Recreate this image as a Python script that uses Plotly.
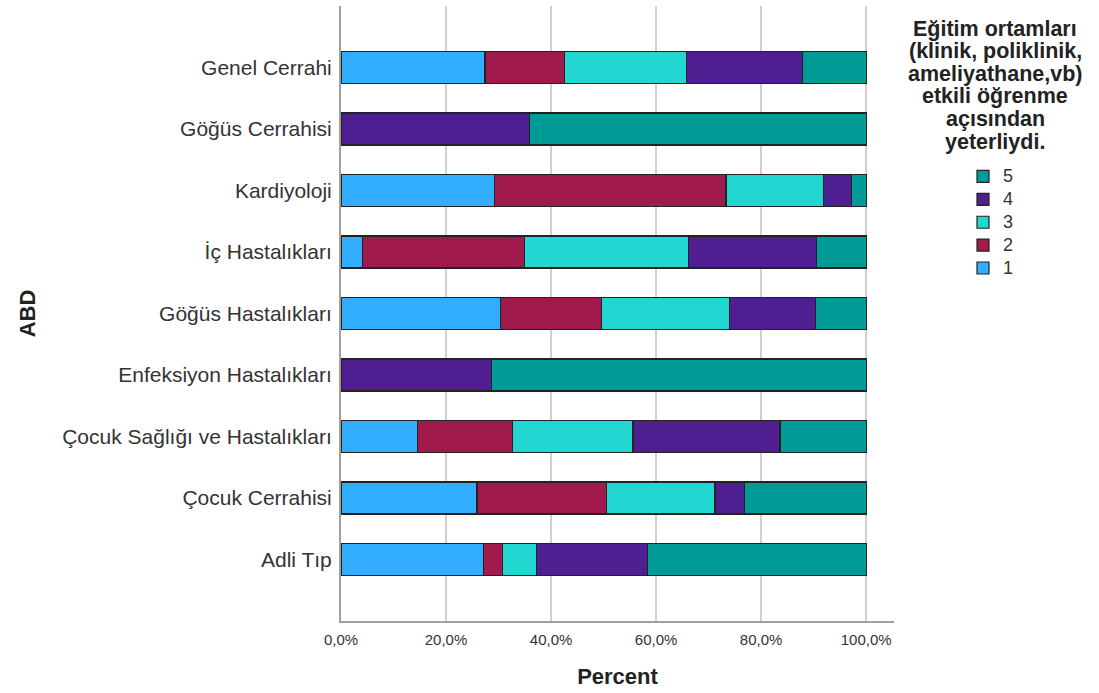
import plotly.graph_objects as go

# Categories (top to bottom)
categories = [
    "Genel Cerrahi",
    "Göğüs Cerrahisi",
    "Kardiyoloji",
    "İç Hastalıkları",
    "Göğüs Hastalıkları",
    "Enfeksiyon Hastalıkları",
    "Çocuk Sağlığı ve Hastalıkları",
    "Çocuk Cerrahisi",
    "Adli Tıp",
]

# Percent per response level, same order as categories
resp_1 = [27.4, 0.0, 29.2, 4.1, 30.3, 0.0, 14.5, 25.9, 27.2]
resp_2 = [15.1, 0.0, 44.1, 30.8, 19.3, 0.0, 18.1, 24.6, 3.5]
resp_3 = [23.3, 0.0, 18.6, 31.2, 24.3, 0.0, 23.0, 20.7, 6.5]
resp_4 = [22.1, 35.9, 5.3, 24.5, 16.5, 28.6, 28.0, 5.7, 21.2]
resp_5 = [12.1, 64.1, 2.8, 9.4, 9.6, 71.4, 16.4, 23.1, 41.6]

series_names = ["1", "2", "3", "4", "5"]
series_values = [resp_1, resp_2, resp_3, resp_4, resp_5]
series_colors = ["#33adff", "#a01a4c", "#22d6d2", "#4f1f91", "#009b96"]

tick_vals = [0, 20, 40, 60, 80, 100]
tick_text = ["0,0%", "20,0%", "40,0%", "60,0%", "80,0%", "100,0%"]

legend_title_lines = [
    "Eğitim ortamları",
    "(klinik, poliklinik,",
    "ameliyathane,vb)",
    "etkili öğrenme",
    "açısından",
    "yeterliydi.",
]

FONT = "Liberation Sans, Arial, sans-serif"
W, H = 1099, 693
L, R, T, B = 341, 205, 6, 72
plot_h = H - T - B
plot_w = W - L - R

fig = go.Figure()
for name, vals, col in zip(series_names, series_values, series_colors):
    fig.add_trace(go.Bar(
        y=categories, x=vals, name="<span style='font-size:18px'>" + name + "</span>",
        orientation="h",
        marker=dict(color=col, line=dict(color="#222222", width=1.2)),
        width=0.52,
    ))

fig.update_layout(
    width=W, height=H,
    barmode="stack",
    plot_bgcolor="white", paper_bgcolor="white",
    margin=dict(l=L, r=R, t=T, b=B, autoexpand=False),
    font=dict(family=FONT, color="#333333"),
    showlegend=True,
    legend=dict(
        traceorder="reversed",
        xref="container", yref="container",
        x=963 / W, y=1 - 160 / H, xanchor="left", yanchor="top",
        font=dict(size=15.3, color="#333333", family=FONT),
        itemwidth=30,
        bgcolor="rgba(0,0,0,0)",
    ),
)

fig.update_xaxes(
    range=[0, 105.3],
    tickvals=tick_vals, ticktext=tick_text,
    tickfont=dict(size=15, color="#333333"),
    showgrid=True, gridcolor="#d0d0d0", gridwidth=1.5,
    showline=True, linecolor="#a0a0a0", linewidth=2,
    zeroline=False, ticks="", ticklabelstandoff=4,
    title=dict(text="<b>Percent</b>", font=dict(size=22, color="#222222"), standoff=22),
)
fig.update_yaxes(
    categoryorder="array", categoryarray=categories,
    range=[len(categories), -1],
    tickfont=dict(size=21, color="#333333"),
    showgrid=False,
    showline=True, linecolor="#a0a0a0", linewidth=2,
    ticks="", ticklabelstandoff=3,
    title=dict(text="<b>ABD</b>", font=dict(size=22, color="#222222"), standoff=20),
)

# Legend title as centered multi-line block
cx = (995 - L) / plot_w
for i, line in enumerate(legend_title_lines):
    ypx = 29 + i * 22.5
    fig.add_annotation(
        xref="paper", yref="paper",
        x=cx, y=(H - B - ypx) / plot_h,
        xanchor="center", yanchor="middle",
        text="<b>" + line + "</b>", showarrow=False,
        font=dict(size=21.5, color="#222222", family=FONT),
    )

fig.write_html("out.html", config={"displayModeBar": False},
               post_script="document.body.style.margin='0px';")
